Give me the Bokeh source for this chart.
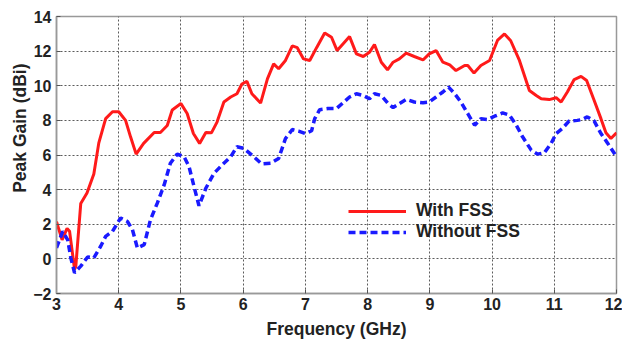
from bokeh.plotting import figure
from bokeh.embed import file_html
from bokeh.resources import INLINE
from bokeh.models import Range1d, FixedTicker, Legend, LegendItem, Title

# With FSS (red solid)
freq_with = [3.0, 3.09, 3.17, 3.21, 3.29, 3.31, 3.39, 3.49, 3.6, 3.68, 3.79, 3.9, 4.0, 4.11,
             4.19, 4.28, 4.4, 4.57, 4.67, 4.78, 4.86, 5.0, 5.1, 5.2, 5.3, 5.4, 5.49, 5.58,
             5.69, 5.8, 5.9, 5.98, 6.06, 6.14, 6.28, 6.39, 6.49, 6.57, 6.68, 6.79, 6.87,
             6.97, 7.07, 7.18, 7.31, 7.42, 7.51, 7.6, 7.71, 7.82, 7.93, 8.03, 8.11, 8.22,
             8.32, 8.41, 8.51, 8.62, 8.75, 8.89, 8.99, 9.1, 9.21, 9.32, 9.42, 9.56, 9.61,
             9.71, 9.82, 9.96, 10.09, 10.2, 10.3, 10.44, 10.6, 10.71, 10.79, 10.92, 11.03,
             11.11, 11.21, 11.32, 11.43, 11.52, 11.64, 11.75, 11.83, 11.91, 12.0]
gain_with = [2.15, 1.1, 1.76, 1.6, -0.6, -0.45, 3.2, 3.8, 4.9, 6.7, 8.1, 8.5, 8.5, 8.0,
             7.05, 6.05, 6.67, 7.3, 7.3, 7.7, 8.6, 8.97, 8.4, 7.24, 6.67, 7.3, 7.28, 7.9,
             9.06, 9.35, 9.54, 10.1, 10.25, 9.54, 9.0, 10.4, 11.26, 10.98, 11.46, 12.3, 12.2,
             11.55, 11.46, 12.2, 13.05, 12.8, 12.03, 12.4, 12.84, 11.84, 11.69, 11.93, 12.38,
             11.36, 10.92, 11.36, 11.55, 11.88, 11.69, 11.49, 11.84, 12.03, 11.36, 11.2,
             10.88, 11.17, 11.17, 10.73, 11.17, 11.46, 12.64, 12.99, 12.6, 11.46, 9.73, 9.44,
             9.25, 9.2, 9.31, 9.06, 9.64, 10.36, 10.54, 10.3, 9.16, 8.1, 7.28, 6.95, 7.28]

# Without FSS (blue dashed)
freq_without = [3.0, 3.1, 3.18, 3.23, 3.29, 3.39, 3.5, 3.6, 3.71, 3.79, 3.9, 4.03, 4.14,
                4.22, 4.3, 4.41, 4.51, 4.62, 4.73, 4.83, 4.94, 5.05, 5.13, 5.21, 5.29, 5.4,
                5.53, 5.66, 5.8, 5.9, 6.01, 6.17, 6.3, 6.44, 6.57, 6.68, 6.79, 6.89, 7.0,
                7.1, 7.15, 7.23, 7.36, 7.5, 7.6, 7.71, 7.82, 7.93, 8.03, 8.11, 8.22, 8.33,
                8.41, 8.51, 8.62, 8.75, 8.89, 8.99, 9.1, 9.21, 9.3, 9.4, 9.5, 9.61, 9.72,
                9.82, 9.93, 10.04, 10.17, 10.28, 10.39, 10.49, 10.63, 10.73, 10.84, 10.95,
                11.03, 11.13, 11.24, 11.37, 11.45, 11.53, 11.64, 11.75, 11.86, 12.0]
gain_without = [0.63, 1.59, 1.1, 0.06, -0.8, -0.42, 0.11, 0.06, 0.73, 1.3, 1.59, 2.36, 2.16,
                1.69, 0.63, 0.82, 2.26, 3.22, 4.27, 5.52, 6.05, 5.9, 5.33, 4.18, 3.07, 4.08,
                4.94, 5.42, 5.9, 6.48, 6.38, 5.9, 5.48, 5.52, 5.8, 6.95, 7.47, 7.38, 7.24,
                7.4, 8.1, 8.62, 8.68, 8.68, 9.0, 9.35, 9.54, 9.44, 9.25, 9.54, 9.44, 8.97,
                8.74, 8.97, 9.21, 9.06, 9.02, 9.06, 9.35, 9.64, 9.92, 9.54, 9.06, 8.39, 7.72,
                8.1, 8.05, 8.24, 8.43, 8.3, 7.72, 7.05, 6.28, 6.05, 6.13, 6.67, 7.24, 7.53,
                7.97, 8.0, 8.05, 8.2, 7.97, 7.24, 6.67, 5.9]

x_ticks = [3, 4, 5, 6, 7, 8, 9, 10, 11, 12]
y_ticks = [-2, 0, 2, 4, 6, 8, 10, 12, 14]
series_names = ["With FSS", "Without FSS"]
x_title = "Frequency (GHz)"
y_title = "Peak Gain (dBi)"

FONT = "Liberation Sans"
TXT = "#222222"

p = figure(width=622, height=341, output_backend="svg", toolbar_location=None,
           x_range=Range1d(3, 12), y_range=Range1d(-2, 14),
           min_border_left=56, min_border_right=6, min_border_top=16, min_border_bottom=47,
           x_axis_label=x_title)
p.background_fill_color = "white"
p.border_fill_color = "white"
p.outline_line_color = "#999999"
p.outline_line_width = 1.5

p.xaxis.ticker = FixedTicker(ticks=x_ticks)
p.yaxis.ticker = FixedTicker(ticks=y_ticks)
for ax in (p.xaxis[0], p.yaxis[0]):
    ax.axis_line_color = "#999999"
    ax.axis_line_width = 1.5
    ax.major_tick_in = 4
    ax.major_tick_out = 0
    ax.major_tick_line_color = "#555555"
    ax.minor_tick_line_color = None
    ax.major_label_text_font = FONT
    ax.major_label_text_font_style = "bold"
    ax.major_label_text_font_size = "16px"
    ax.major_label_text_color = TXT
    ax.axis_label_text_font = FONT
    ax.axis_label_text_font_style = "bold"
    ax.axis_label_text_font_size = "17.5px"
    ax.axis_label_text_color = TXT
p.xaxis.major_label_standoff = 4
p.yaxis.major_label_standoff = 5
p.xaxis.axis_label_standoff = 6

# y axis title as a left-side title, placed slightly above centre as in the reference
ytitle = Title(text=y_title, align="right", offset=47, standoff=2,
               text_font=FONT, text_font_style="bold", text_font_size="17.5px",
               text_color=TXT)
p.add_layout(ytitle, "left")

p.xgrid.grid_line_color = "#333333"
p.ygrid.grid_line_color = "#333333"
p.xgrid.grid_line_dash = "2 2"
p.ygrid.grid_line_dash = "2 2"
p.xgrid.grid_line_alpha = 0.8
p.ygrid.grid_line_alpha = 0.8

r1 = p.line(freq_with, gain_with, line_color="#ff1a1a", line_width=3)
r2 = p.line(freq_without, gain_without, line_color="#1a1aff", line_width=3.5, line_dash="7 4")

legend = Legend(items=[LegendItem(label=series_names[0], renderers=[r1]),
                       LegendItem(label=series_names[1], renderers=[r2])],
                location=(292, 51))
legend.background_fill_alpha = 0
legend.border_line_color = None
legend.padding = 0
legend.margin = 0
legend.spacing = 0
legend.glyph_width = 58
legend.glyph_height = 20
legend.label_height = 20
legend.label_standoff = 10
legend.label_text_font = FONT
legend.label_text_font_style = "bold"
legend.label_text_font_size = "17.5px"
legend.label_text_color = TXT
p.add_layout(legend, "center")

open("out.html", "w").write(file_html(p, INLINE))
